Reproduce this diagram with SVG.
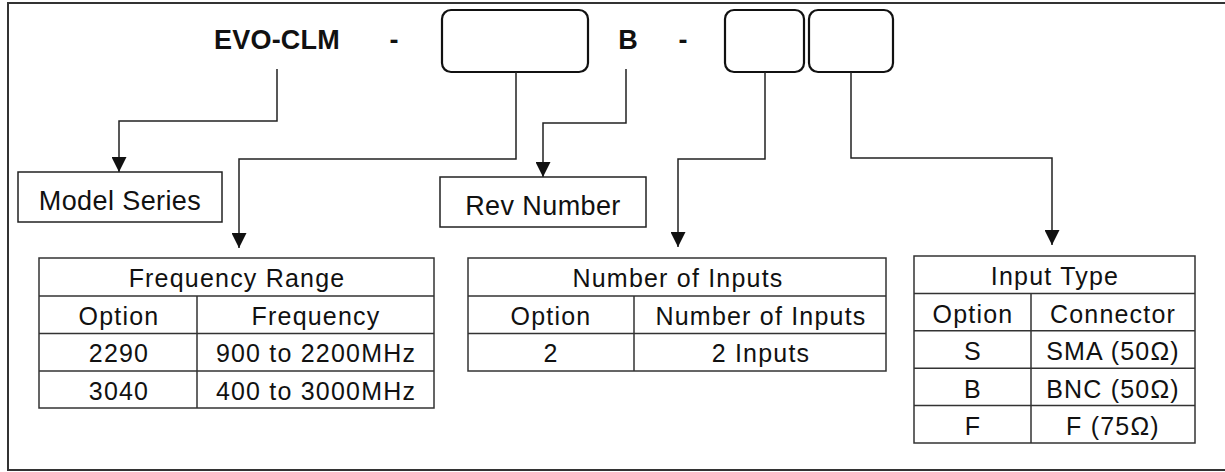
<svg xmlns="http://www.w3.org/2000/svg" width="1225" height="472" viewBox="0 0 1225 472">
<style>
  .t{font-family:"Liberation Sans",Arial,sans-serif;fill:#111;text-anchor:middle}
  .tb{font-size:25px;letter-spacing:1.2px}
  .lb{font-size:27px;letter-spacing:0.4px}
  .hd{font-size:27px;font-weight:bold;letter-spacing:0.2px}
  .slot{fill:#fff;stroke:#111;stroke-width:2.2}
  .box{fill:#fff;stroke:#222;stroke-width:1.5}
  .grid{fill:none;stroke:#333;stroke-width:1.5}
  .conn{fill:none;stroke:#222;stroke-width:1.5}
</style>
<defs>
  <marker id="arrB" viewBox="0 0 15 15" refX="15" refY="7.5" markerWidth="15" markerHeight="15" markerUnits="userSpaceOnUse" orient="auto">
    <path d="M0,0 L15,7.5 L0,15 Z" fill="#111"/>
  </marker>
</defs>
<rect width="1225" height="472" fill="#fff"/>
<path d="M1225,3 H8 V470 H1225" fill="none" stroke="#333" stroke-width="2"/>

<g id="header">
  <text class="t hd" x="277" y="49">EVO-CLM</text>
  <text class="t hd" x="394" y="49">-</text>
  <text class="t hd" x="628" y="49">B</text>
  <text class="t hd" x="683" y="49">-</text>
</g>
<g id="slot-frequency"><rect class="slot" x="442" y="10" width="146" height="62" rx="9"/></g>
<g id="slot-inputs"><rect class="slot" x="725" y="10" width="79" height="62" rx="9"/></g>
<g id="slot-type"><rect class="slot" x="809" y="10" width="84" height="62" rx="9"/></g>

<g id="connectors">
  <path class="conn" d="M277,69 V121 H119 V172" marker-end="url(#arrB)"/>
  <path class="conn" d="M516,72 V159 H239 V248" marker-end="url(#arrB)"/>
  <path class="conn" d="M626,69 V123 H543 V177" marker-end="url(#arrB)"/>
  <path class="conn" d="M765,72 V159 H678 V247" marker-end="url(#arrB)"/>
  <path class="conn" d="M851,72 V158 H1052 V245" marker-end="url(#arrB)"/>
</g>

<g id="model-series">
  <rect class="box" x="18" y="172" width="204" height="50"/>
  <text class="t lb" x="120" y="210">Model Series</text>
</g>
<g id="rev-number">
  <rect class="box" x="440" y="177" width="206" height="50"/>
  <text class="t lb" x="543" y="215">Rev Number</text>
</g>

<g id="table-frequency">
  <rect class="grid" x="39" y="258" width="395" height="150"/>
  <path class="grid" d="M39,296 H434 M39,333.5 H434 M39,371 H434 M197,296 V408"/>
  <text class="t tb" x="237" y="287">Frequency Range</text>
  <text class="t tb" x="119" y="324.5">Option</text>
  <text class="t tb" x="316" y="324.5">Frequency</text>
  <text class="t tb" x="119" y="362">2290</text>
  <text class="t tb" x="316" y="362">900 to 2200MHz</text>
  <text class="t tb" x="119" y="399.5">3040</text>
  <text class="t tb" x="316" y="399.5">400 to 3000MHz</text>
</g>

<g id="table-inputs">
  <rect class="grid" x="468" y="258" width="418" height="113"/>
  <path class="grid" d="M468,296 H886 M468,333.5 H886 M634,296 V371"/>
  <text class="t tb" x="678" y="287">Number of Inputs</text>
  <text class="t tb" x="551" y="324.5">Option</text>
  <text class="t tb" x="761" y="324.5">Number of Inputs</text>
  <text class="t tb" x="551" y="362">2</text>
  <text class="t tb" x="761" y="362">2 Inputs</text>
</g>

<g id="table-type">
  <rect class="grid" x="914" y="256" width="281" height="187"/>
  <path class="grid" d="M914,293.4 H1195 M914,330.8 H1195 M914,368.2 H1195 M914,405.6 H1195 M1031,293.4 V443"/>
  <text class="t tb" x="1055" y="285">Input Type</text>
  <text class="t tb" x="973" y="322.5">Option</text>
  <text class="t tb" x="1113" y="322.5">Connector</text>
  <text class="t tb" x="973" y="360">S</text>
  <text class="t tb" x="1113" y="360">SMA (50Ω)</text>
  <text class="t tb" x="973" y="397.5">B</text>
  <text class="t tb" x="1113" y="397.5">BNC (50Ω)</text>
  <text class="t tb" x="973" y="435">F</text>
  <text class="t tb" x="1113" y="435">F (75Ω)</text>
</g>
</svg>
